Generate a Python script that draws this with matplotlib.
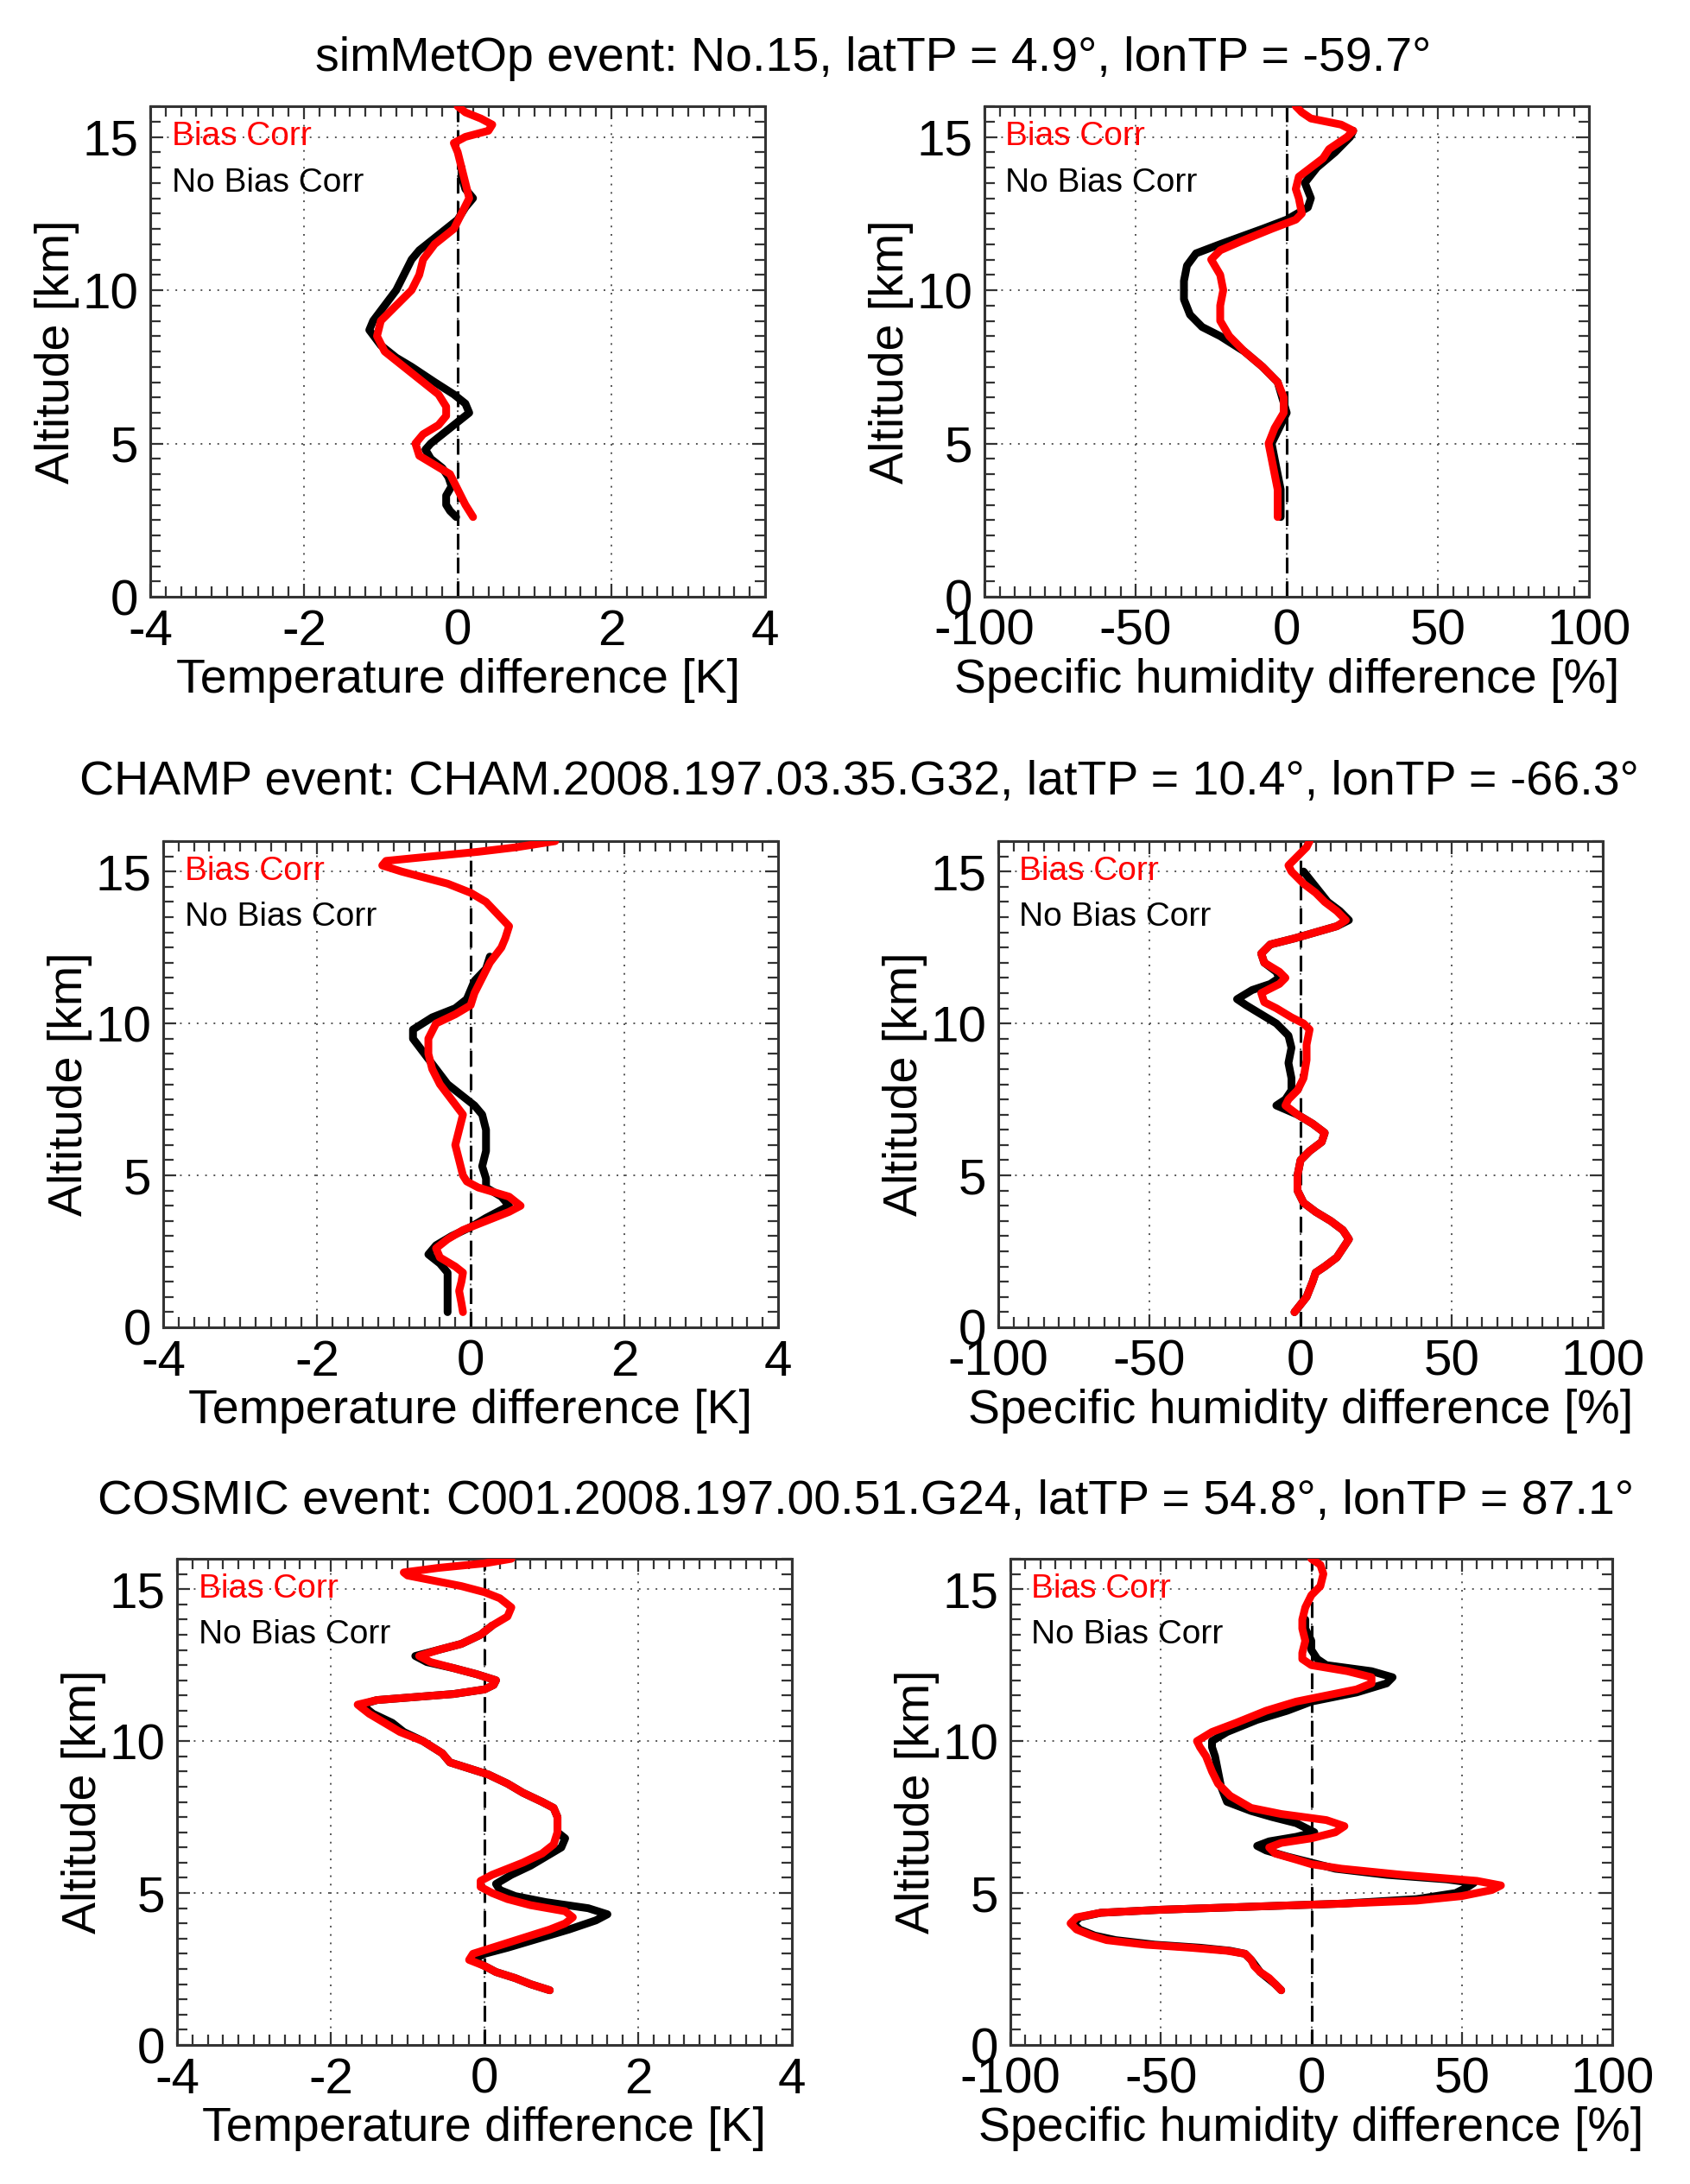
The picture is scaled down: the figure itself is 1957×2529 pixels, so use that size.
import matplotlib
matplotlib.use("Agg")
import matplotlib.pyplot as plt
from matplotlib.ticker import MultipleLocator

plt.rcParams['font.family'] = ['Liberation Sans', 'DejaVu Sans']
plt.rcParams['axes.unicode_minus'] = False

# ---------------- data ----------------
titles = [
    "simMetOp event: No.15, latTP = 4.9°, lonTP = -59.7°",
    "CHAMP event: CHAM.2008.197.03.35.G32, latTP = 10.4°, lonTP = -66.3°",
    "COSMIC event: C001.2008.197.00.51.G24, latTP = 54.8°, lonTP = 87.1°",
]
legend_labels = ["Bias Corr", "No Bias Corr"]
xlabel_T = "Temperature difference [K]"
xlabel_q = "Specific humidity difference [%]"
ylabel = "Altitude [km]"
xticks_T = [-4, -2, 0, 2, 4]
xticks_q = [-100, -50, 0, 50, 100]
yticks = [0, 5, 10, 15]

# simMetOp temperature
met_T_red_alt = [2.6, 3.0, 3.5, 4.0, 4.3, 4.6, 5.0, 5.3, 5.6, 5.9, 6.2, 6.6, 7.0, 7.5, 8.0, 8.5, 9.0, 9.5,
                 10.0, 10.5, 11.0, 11.5, 12.0, 12.5, 13.0, 13.5, 14.0, 14.5, 14.8, 15.0, 15.2, 15.4, 15.6, 15.8, 16.0]
met_T_red_val = [0.2, 0.1, 0.0, -0.1, -0.3, -0.5, -0.55, -0.45, -0.25, -0.15, -0.15, -0.25, -0.45, -0.7, -0.95,
                 -1.05, -1.0, -0.8, -0.6, -0.5, -0.45, -0.3, -0.05, 0.05, 0.15, 0.1, 0.05, 0.0, -0.05, 0.1, 0.4,
                 0.45, 0.3, 0.1, 0.0]
met_T_blk_alt = [2.6, 2.8, 3.0, 3.3, 3.6, 3.9, 4.2, 4.5, 4.8, 5.0, 5.3, 5.6, 6.0, 6.3, 6.6, 7.0, 7.5, 7.8, 8.2,
                 8.7, 9.0, 9.5, 10.0, 10.5, 11.0, 11.3, 11.7, 12.0, 12.3, 12.7, 13.0, 13.3, 13.7, 14.0]
met_T_blk_val = [-0.02, -0.1, -0.15, -0.15, -0.08, -0.12, -0.2, -0.35, -0.42, -0.35, -0.2, -0.05, 0.15, 0.1,
                 -0.05, -0.3, -0.6, -0.8, -1.0, -1.15, -1.1, -0.95, -0.8, -0.7, -0.6, -0.5, -0.3, -0.15, 0.0,
                 0.1, 0.2, 0.1, 0.05, 0.05]

# simMetOp humidity
met_q_red_alt = [2.6, 3.5, 4.0, 4.5, 5.0, 5.5, 6.0, 6.5, 7.0, 7.5, 8.0, 8.5, 9.0, 9.5, 10.0, 10.5, 11.0, 11.3,
                 11.6, 12.0, 12.3, 12.5, 13.0, 13.3, 13.7, 14.0, 14.3, 14.6, 15.0, 15.2, 15.4, 15.6, 15.8, 16.0]
met_q_red_val = [-3, -3, -4, -5, -6, -4, -1, -1, -3, -8, -14, -19, -22, -22, -21, -22, -25, -22, -15, -5, 3, 5,
                 4, 3, 4, 8, 12, 14, 20, 22, 18, 8, 5, 3]
met_q_blk_alt = [2.6, 3.5, 5.0, 6.0, 7.0, 7.5, 8.0, 8.5, 8.8, 9.2, 9.7, 10.3, 10.8, 11.2, 11.5, 12.0, 12.3, 12.7,
                 13.0, 13.5, 14.0, 14.5, 15.0, 15.2]
met_q_blk_val = [-2, -2, -5, 0, -3, -8, -14, -22, -28, -32, -34, -34, -33, -30, -22, -8, 0, 7, 8, 6, 10, 16, 21, 22]

# CHAMP temperature
cha_T_red_alt = [0.5, 0.8, 1.2, 1.5, 1.8, 2.0, 2.3, 2.6, 2.9, 3.2, 3.5, 3.8, 4.0, 4.3, 4.6, 4.8, 5.0, 5.5, 6.0,
                 6.5, 7.0, 7.5, 8.0, 8.5, 9.0, 9.5, 10.0, 10.3, 10.6, 11.0, 11.5, 12.0, 12.5, 12.8, 13.2, 13.6,
                 14.0, 14.3, 14.6, 14.8, 15.0, 15.2, 15.35, 15.5, 15.65, 15.8, 16.0]
cha_T_red_val = [-0.1, -0.12, -0.15, -0.12, -0.1, -0.2, -0.4, -0.45, -0.3, -0.1, 0.2, 0.5, 0.65, 0.5, 0.1, -0.05,
                 -0.1, -0.15, -0.2, -0.15, -0.1, -0.25, -0.4, -0.5, -0.55, -0.55, -0.45, -0.2, 0.0, 0.05, 0.15,
                 0.25, 0.4, 0.45, 0.5, 0.35, 0.2, 0.0, -0.3, -0.6, -0.9, -1.15, -1.1, -0.5, 0.1, 0.6, 1.1]
cha_T_blk_alt = [0.5, 1.0, 1.5, 1.8, 2.1, 2.4, 2.7, 3.0, 3.3, 3.6, 4.0, 4.3, 4.6, 4.9, 5.3, 5.8, 6.5, 7.0, 7.3,
                 7.6, 8.0, 8.5, 9.0, 9.5, 9.8, 10.2, 10.5, 10.8, 11.1, 11.4, 11.8, 12.2]
cha_T_blk_val = [-0.3, -0.3, -0.3, -0.3, -0.4, -0.55, -0.45, -0.25, 0.0, 0.2, 0.5, 0.4, 0.2, 0.2, 0.15, 0.2, 0.2,
                 0.15, 0.05, -0.1, -0.3, -0.45, -0.6, -0.75, -0.75, -0.5, -0.2, -0.05, 0.0, 0.05, 0.2, 0.25]

# CHAMP humidity
cha_q_red_alt = [0.5, 1.0, 1.5, 1.8, 2.0, 2.3, 2.6, 2.9, 3.2, 3.5, 3.8, 4.1, 4.5, 5.0, 5.5, 5.8, 6.1, 6.4, 6.7,
                 7.0, 7.3, 7.5, 7.8, 8.2, 8.8, 9.3, 9.8, 10.0, 10.2, 10.5, 10.7, 11.0, 11.3, 11.5, 11.7, 12.0,
                 12.3, 12.6, 12.8, 13.0, 13.2, 13.4, 13.7, 14.0, 14.3, 14.6, 15.0, 15.2, 15.4, 15.6, 15.8, 16.0]
cha_q_red_val = [-2, 2, 4, 5, 8, 12, 14, 16, 14, 10, 5, 1, -1, -1, 0, 3, 7, 8, 4, -1, -5, -4, -1, 1, 2, 2, 3, 1,
                 -3, -8, -12, -13, -7, -5, -7, -12, -13, -10, -2, 5, 12, 15, 12, 8, 5, 1, -3, -4, -2, 0, 2, 3]
cha_q_blk_alt = [0.5, 1.0, 1.5, 1.8, 2.0, 2.3, 2.6, 2.9, 3.2, 3.5, 3.8, 4.1, 4.5, 5.0, 5.5, 5.8, 6.1, 6.4, 6.7,
                 7.0, 7.3, 7.5, 7.8, 8.2, 8.7, 9.2, 9.6, 10.0, 10.3, 10.6, 10.8, 11.1, 11.3, 11.5, 11.7, 12.0,
                 12.3, 12.6, 12.8, 13.0, 13.2, 13.4, 13.7, 14.0, 14.5, 15.0]
cha_q_blk_val = [-2, 2, 4, 5, 8, 12, 14, 16, 14, 10, 5, 1, -1, -1, 0, 3, 7, 8, 4, -1, -8, -5, -3, -3, -4, -3, -4,
                 -8, -13, -18, -21, -16, -10, -7, -8, -12, -13, -10, -2, 5, 12, 16, 13, 9, 5, 1]

# COSMIC temperature
cos_T_red_alt = [1.8, 2.0, 2.2, 2.4, 2.6, 2.8, 3.0, 3.2, 3.4, 3.6, 3.8, 4.0, 4.2, 4.4, 4.6, 4.8, 5.0, 5.2, 5.4,
                 5.6, 5.8, 6.0, 6.3, 6.6, 7.0, 7.5, 7.8, 8.0, 8.3, 8.6, 8.9, 9.1, 9.3, 9.6, 10.0, 10.3, 10.6,
                 10.9, 11.2, 11.35, 11.45, 11.55, 11.7, 11.85, 12.0, 12.2, 12.4, 12.6, 12.8, 13.0, 13.2, 13.5,
                 13.8, 14.1, 14.4, 14.7, 14.9, 15.1, 15.3, 15.45, 15.55, 15.7, 15.85, 16.0]
cos_T_red_val = [0.85, 0.6, 0.4, 0.15, 0.0, -0.2, -0.15, 0.1, 0.35, 0.6, 0.85, 1.05, 1.15, 1.05, 0.6, 0.3, 0.1,
                 -0.05, -0.05, 0.1, 0.3, 0.5, 0.75, 0.9, 0.95, 0.95, 0.9, 0.75, 0.5, 0.3, 0.05, -0.2, -0.45,
                 -0.55, -0.8, -1.1, -1.3, -1.5, -1.65, -1.4, -0.9, -0.4, 0.0, 0.12, 0.15, -0.1, -0.4, -0.7, -0.85,
                 -0.6, -0.3, -0.05, 0.1, 0.3, 0.35, 0.2, 0.0, -0.3, -0.7, -1.0, -1.05, -0.6, 0.0, 0.35]
cos_T_blk_alt = [1.8, 2.0, 2.2, 2.4, 2.6, 2.8, 3.0, 3.2, 3.5, 3.8, 4.1, 4.3, 4.5, 4.7, 4.9, 5.1, 5.3, 5.6, 5.9,
                 6.2, 6.5, 6.8, 7.0, 7.5, 7.8, 8.0, 8.3, 8.6, 8.9, 9.1, 9.3, 9.6, 10.0, 10.3, 10.6, 10.9, 11.2,
                 11.35, 11.45, 11.55, 11.7, 11.85, 12.0, 12.2, 12.4, 12.6, 12.8, 13.0, 13.2, 13.5, 13.8]
cos_T_blk_val = [0.85, 0.6, 0.4, 0.15, 0.0, -0.15, 0.0, 0.3, 0.7, 1.1, 1.45, 1.6, 1.35, 0.8, 0.4, 0.2, 0.15, 0.35,
                 0.6, 0.8, 1.0, 1.05, 0.95, 0.95, 0.9, 0.75, 0.5, 0.3, 0.05, -0.2, -0.45, -0.55, -0.8, -1.05,
                 -1.2, -1.45, -1.6, -1.4, -0.9, -0.4, 0.0, 0.12, 0.15, -0.1, -0.4, -0.75, -0.9, -0.6, -0.3,
                 -0.05, 0.1]

# COSMIC humidity
cos_q_red_alt = [1.8, 2.0, 2.2, 2.4, 2.6, 2.8, 3.0, 3.1, 3.2, 3.3, 3.45, 3.6, 3.8, 4.0, 4.2, 4.35, 4.45, 4.55,
                 4.65, 4.75, 4.9, 5.1, 5.25, 5.4, 5.6, 5.8, 5.95, 6.1, 6.3, 6.5, 6.65, 6.8, 7.0, 7.2, 7.4, 7.6,
                 7.8, 8.2, 8.6, 9.0, 9.5, 9.8, 10.0, 10.3, 10.6, 11.0, 11.3, 11.5, 11.7, 11.9, 12.1, 12.3, 12.5,
                 12.7, 12.9, 13.3, 13.7, 14.0, 14.4, 14.8, 15.1, 15.5, 15.8, 16.0]
cos_q_red_val = [-10, -12, -14, -17, -19, -20, -22, -28, -40, -55, -68, -73, -78, -80, -78, -70, -50, -20, 10,
                 35, 50, 60, 63, 55, 30, 10, 0, -5, -12, -14, -10, 0, 8, 11, 5, -10, -20, -27, -31, -33, -35,
                 -37, -38, -33, -25, -15, -5, 5, 15, 20, 20, 12, 0, -3, -3, -2, -3, -3, -2, 0, 3, 4, 3, 0]
cos_q_blk_alt = [1.8, 2.0, 2.4, 2.8, 3.0, 3.1, 3.2, 3.3, 3.45, 3.6, 3.8, 4.0, 4.2, 4.35, 4.45, 4.55, 4.65, 4.8,
                 5.0, 5.2, 5.33, 5.45, 5.6, 5.8, 6.0, 6.2, 6.4, 6.55, 6.7, 6.85, 7.0, 7.15, 7.3, 7.5, 7.7, 8.0,
                 8.5, 9.0, 9.5, 9.8, 10.0, 10.3, 10.7, 11.0, 11.3, 11.6, 11.9, 12.1, 12.3, 12.5, 12.7, 13.0,
                 13.3, 13.7, 14.0]
cos_q_blk_val = [-10, -12, -17, -20, -22, -27, -37, -52, -65, -72, -77, -79, -77, -70, -50, -20, 10, 35, 48, 52,
                 54, 45, 25, 8, 0, -8, -15, -18, -14, -5, 1, -2, -5, -13, -20, -28, -30, -31, -32, -33, -33,
                 -28, -18, -8, 0, 15, 25, 27, 20, 5, 2, 0, 0, -2, -2]

panels = [
    (met_T_red_alt, met_T_red_val, met_T_blk_alt, met_T_blk_val, 'T'),
    (met_q_red_alt, met_q_red_val, met_q_blk_alt, met_q_blk_val, 'q'),
    (cha_T_red_alt, cha_T_red_val, cha_T_blk_alt, cha_T_blk_val, 'T'),
    (cha_q_red_alt, cha_q_red_val, cha_q_blk_alt, cha_q_blk_val, 'q'),
    (cos_T_red_alt, cos_T_red_val, cos_T_blk_alt, cos_T_blk_val, 'T'),
    (cos_q_red_alt, cos_q_red_val, cos_q_blk_alt, cos_q_blk_val, 'q'),
]

# ---------------- layout ----------------
W, H = 1957, 2529
fig = plt.figure(figsize=(W / 100, H / 100), dpi=100)
fig.patch.set_facecolor('white')

# pixel boxes (left, top, width, height)
boxes = [
    (174, 123, 712, 568), (1140, 123, 700, 568),
    (189, 974, 712, 563), (1156, 974, 700, 563),
    (205, 1805, 712, 563), (1170, 1805, 697, 563),
]
title_pos = [(1011, 68), (995, 906), (1003, 1739)]

FS = 40
for i, (ra, rv, ba, bv, kind) in enumerate(panels):
    l, t, w, h = boxes[i]
    ax = fig.add_axes([l / W, (H - t - h) / H, w / W, h / H])
    if kind == 'T':
        ax.set_xlim(-4, 4)
        ax.set_xticks(xticks_T)
        ax.xaxis.set_minor_locator(MultipleLocator(0.2))
        ax.set_xlabel(xlabel_T, fontsize=FS, labelpad=2)
    else:
        ax.set_xlim(-100, 100)
        ax.set_xticks(xticks_q)
        ax.xaxis.set_minor_locator(MultipleLocator(5))
        ax.set_xlabel(xlabel_q, fontsize=FS, labelpad=2)
    ax.set_ylim(0, 16)
    ax.set_yticks(yticks)
    ax.yaxis.set_minor_locator(MultipleLocator(0.5))
    ax.set_ylabel(ylabel, fontsize=FS, labelpad=2)

    ax.grid(True, which='major', color='#555555', linestyle=(0, (1, 4)), linewidth=1.4)
    ax.axvline(0, color='black', linewidth=2.2, dashes=(6, 3), zorder=2)
    ax.plot(bv, ba, color='black', linewidth=6.5, solid_capstyle='round', solid_joinstyle='round', zorder=3)
    ax.plot(rv, ra, color='#ff0000', linewidth=6.5, solid_capstyle='round', solid_joinstyle='round', zorder=4)

    ax.tick_params(which='both', direction='in', top=True, right=True, width=1.6, color='#333333')
    ax.tick_params(which='major', length=11, labelsize=42, pad=10)
    ax.tick_params(which='minor', length=8.5)
    for s in ax.spines.values():
        s.set_linewidth(2.2)
        s.set_color('#333333')

    ax.text(0.035, 15.0 / 16, legend_labels[0], color='#ff0000', fontsize=28,
            transform=ax.transAxes, va='center', ha='left', zorder=5)
    ax.text(0.035, 13.5 / 16, legend_labels[1], color='black', fontsize=28,
            transform=ax.transAxes, va='center', ha='left', zorder=5)

for (x, y), ttl in zip(title_pos, titles):
    fig.text(x / W, 1 - y / H, ttl, fontsize=FS, ha='center', va='center')

fig.savefig("out.png", dpi=100)
